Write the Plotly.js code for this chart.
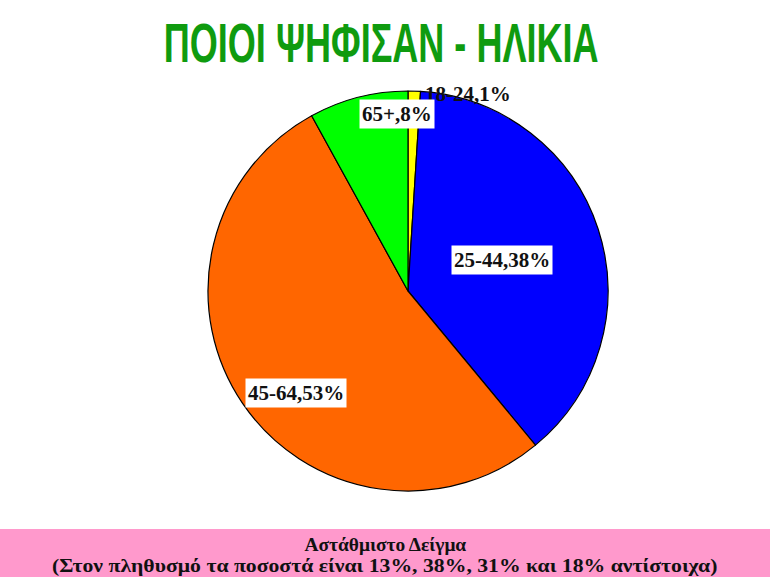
<!DOCTYPE html>
<html><head><meta charset="utf-8">
<script src="https://cdn.plot.ly/plotly-3.0.1.min.js"></script>
<style>html,body{margin:0;padding:0;background:#fff}#chart{width:770px;height:577px}</style>
</head><body><div id="chart"></div>
<script>
// Data
const ageGroups = ['18-24', '25-44', '45-64', '65+'];
const shares = [1, 38, 53, 8];
const sliceColors = ['#ffff00', '#0000ff', '#ff6600', '#00ff00'];
const titleText = 'ΠΟΙΟΙ ΨΗΦΙΣΑΝ - ΗΛΙΚΙΑ';
const footLine1 = 'Αστάθμιστο Δείγμα';
const footLine2 = '(Στον πληθυσμό τα ποσοστά είναι 13%, 38%, 31% και 18% αντίστοιχα)';

// label placement style (angle offset from slice middle in degrees, radius fraction)
const labelAngleShift = [15, 0, -8, 11];
const labelRadius = [1.03, 0.495, 0.757, 0.887];

const W = 770, H = 577;
const cxPx = 408, cyPx = 291, Rpx = 200;
const serif = 'Liberation Serif, Times New Roman, serif';

const total = shares.reduce((a, b) => a + b, 0);
let cum = 0;
const annotations = [];
shares.forEach((v, i) => {
  const mid = (cum + v / 2) / total * 360 + labelAngleShift[i];
  cum += v;
  const a = mid * Math.PI / 180;
  const px = cxPx + labelRadius[i] * Rpx * Math.sin(a);
  const py = cyPx - labelRadius[i] * Rpx * Math.cos(a);
  annotations.push({
    x: px / W, y: 1 - py / H, xref: 'paper', yref: 'paper',
    text: '<b>' + ageGroups[i] + ',' + v + '%</b>', showarrow: false,
    font: {family: serif, size: 21, color: '#111'},
    bgcolor: i === 0 ? 'rgba(255,255,255,0)' : '#ffffff',
    borderpad: 2, xanchor: 'center', yanchor: 'middle'
  });
});

const footStart = annotations.length;
annotations.push({
  x: 0.5, y: 1 - 544 / H, xref: 'paper', yref: 'paper', showarrow: false,
  text: '<b>' + footLine1 + '</b>',
  font: {family: serif, size: 19.5, color: '#111'},
  xanchor: 'center', yanchor: 'middle'
});
annotations.push({
  x: 0.5, y: 1 - 566 / H, xref: 'paper', yref: 'paper', showarrow: false,
  text: '<b>' + footLine2 + '</b>',
  font: {family: serif, size: 19.5, color: '#111'},
  xanchor: 'center', yanchor: 'middle'
});
const footWidths = [162, 666];

const trace = {
  type: 'pie',
  labels: ageGroups,
  values: shares,
  sort: false,
  direction: 'clockwise',
  rotation: 0,
  marker: {colors: sliceColors, line: {color: '#000', width: 1.2}},
  textinfo: 'none',
  hoverinfo: 'label+percent',
  showlegend: false,
  domain: {x: [(cxPx - Rpx) / W, (cxPx + Rpx) / W], y: [1 - (cyPx + Rpx) / H, 1 - (cyPx - Rpx) / H]}
};

const layout = {
  width: W, height: H,
  margin: {l: 0, r: 0, t: 0, b: 0},
  paper_bgcolor: '#ffffff',
  showlegend: false,
  title: {
    text: '<b>' + titleText + '</b>',
    x: 0.495, xanchor: 'center', y: 1 - 42 / H, yanchor: 'middle',
    font: {family: 'Liberation Sans, Arial, sans-serif', size: 56, color: '#0f9b0f'}
  },
  shapes: [{
    type: 'rect', xref: 'paper', yref: 'paper', layer: 'below',
    x0: 0, x1: 1, y0: 0, y1: 1 - 529 / H,
    fillcolor: '#ff99cc', line: {width: 0}
  }],
  annotations: annotations
};

function squeezeX(el, targetWidth) {
  if (!el) return;
  const bb = el.getBBox();
  if (!bb.width) return;
  const cx = bb.x + bb.width / 2;
  const sx = targetWidth / bb.width;
  el.setAttribute('transform', 'translate(' + cx + ',0) scale(' + sx + ',1) translate(' + (-cx) + ',0)');
}

Plotly.newPlot('chart', [trace], layout, {displayModeBar: false, staticPlot: true}).then(() => {
  // condense the title horizontally (narrow bold face of the original)
  squeezeX(document.querySelector('.gtitle'), 435);
  footWidths.forEach((w, k) => {
    squeezeX(document.querySelector('.annotation[data-index="' + (footStart + k) + '"] text'), w);
  });
});
</script></body></html>
